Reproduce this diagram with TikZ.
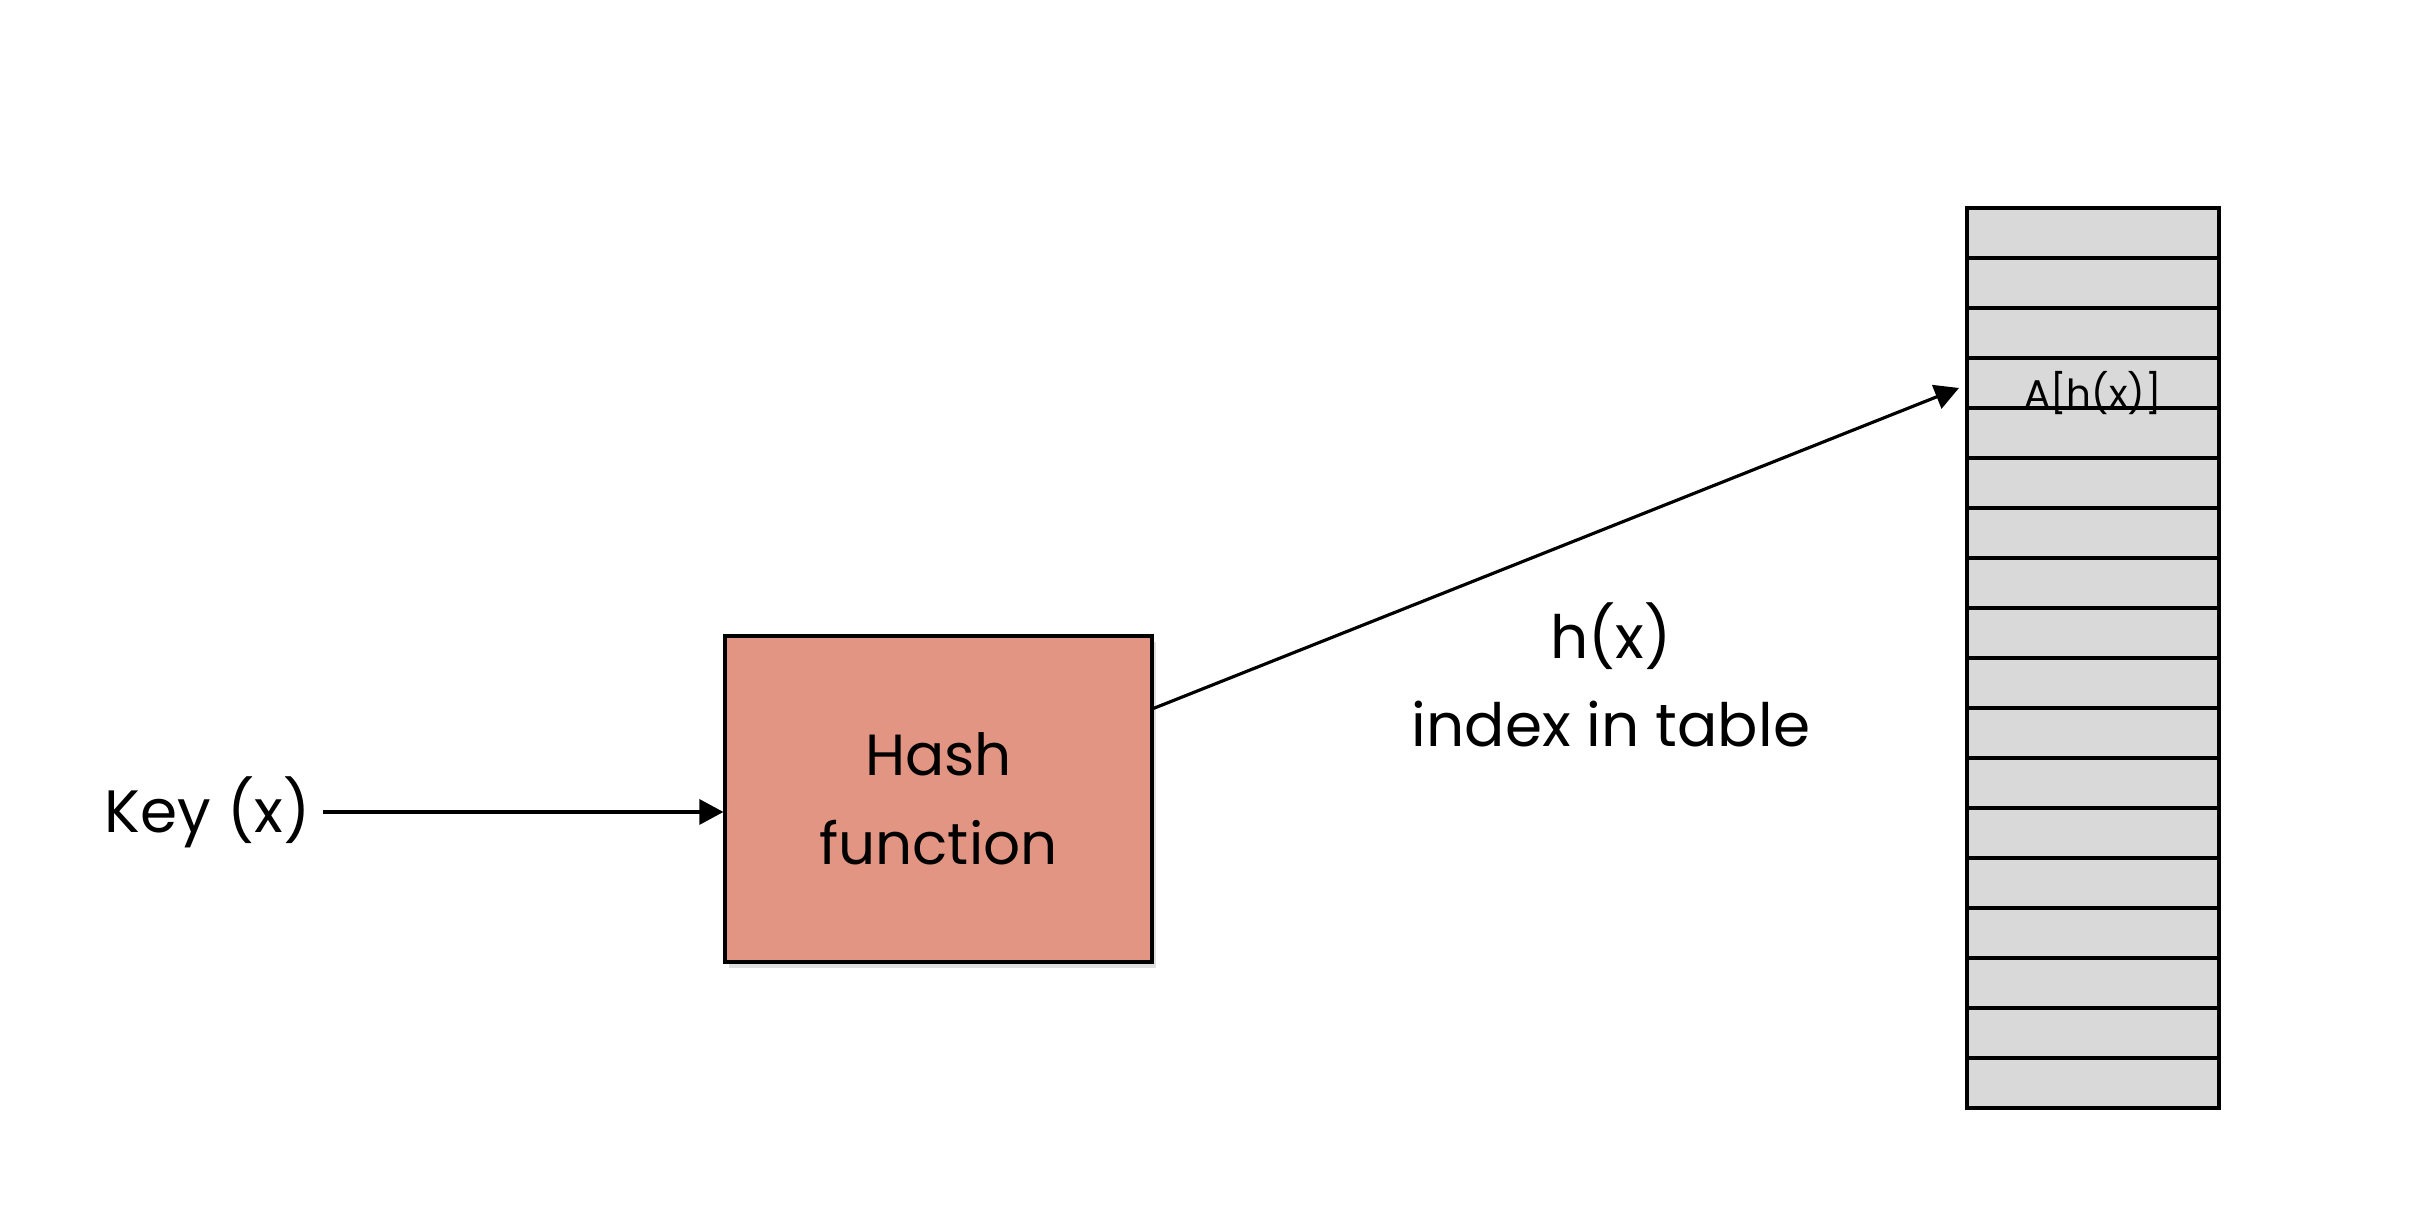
\documentclass[tikz,border=0pt]{standalone}
\usepackage{fontspec}
\setmainfont{Poppins}
\usepackage{tikz}
\usetikzlibrary{positioning, arrows.meta, shadows}
\definecolor{lineColor}{RGB}{0, 0, 0}
\definecolor{hashFill}{RGB}{226, 149, 131}
\definecolor{cellFill}{RGB}{217, 217, 217}
\tikzset{
    hash_box/.style={
        draw=lineColor,
        line width=0.9pt,
        fill=hashFill,
        minimum width=4.27cm,
        minimum height=3.26cm,
        align=center,
        font=\fontsize{16.5}{25.5}\selectfont,
        drop shadow={opacity=0.25, shadow xshift=0.4mm, shadow yshift=-0.6mm}
    },
    table_cell/.style={
        draw=lineColor,
        line width=0.9pt,
        fill=cellFill,
        minimum width=2.52cm,
        minimum height=0.5cm,
        inner sep=0pt,
        outer sep=0pt
    },
    big_text/.style={
        align=center,
        font=\fontsize{17}{25}\selectfont
    },
    cell_text/.style={
        inner sep=0pt,
        text depth=0pt,
        font=\fontsize{11}{13}\selectfont
    },
    map_edge/.style={
        ->,
        >={Triangle[length=2.4mm, width=2.5mm]},
        line width=0.9pt,
        draw=lineColor
    }
}

\begin{document}
\begin{tikzpicture}
    \useasboundingbox (0,0) rectangle (24.15,12.25);

    \node[big_text] (key) at (2.075,4.13) {Key (x)};
    \node[hash_box] (hash) at (9.385,4.26) {Hash\\function};
    \node[big_text] (index) at (16.11,5.5) {h(x)\\index in table};

    % hash table
    \foreach \i in {1,...,18}
        \node[table_cell] (cell\i) at (20.93,10.42-0.5*\i) {};
    \node[cell_text] (slot) at ([yshift=-0.6mm]cell4.center) {A[h(x)]};

    \draw[map_edge] (key.east) -- (key.east -| hash.west);
    \draw[map_edge] ([yshift=-7.4mm]hash.north east) -- ([xshift=-0.8mm,yshift=-0.5mm]cell4.west);
\end{tikzpicture}
\end{document}
